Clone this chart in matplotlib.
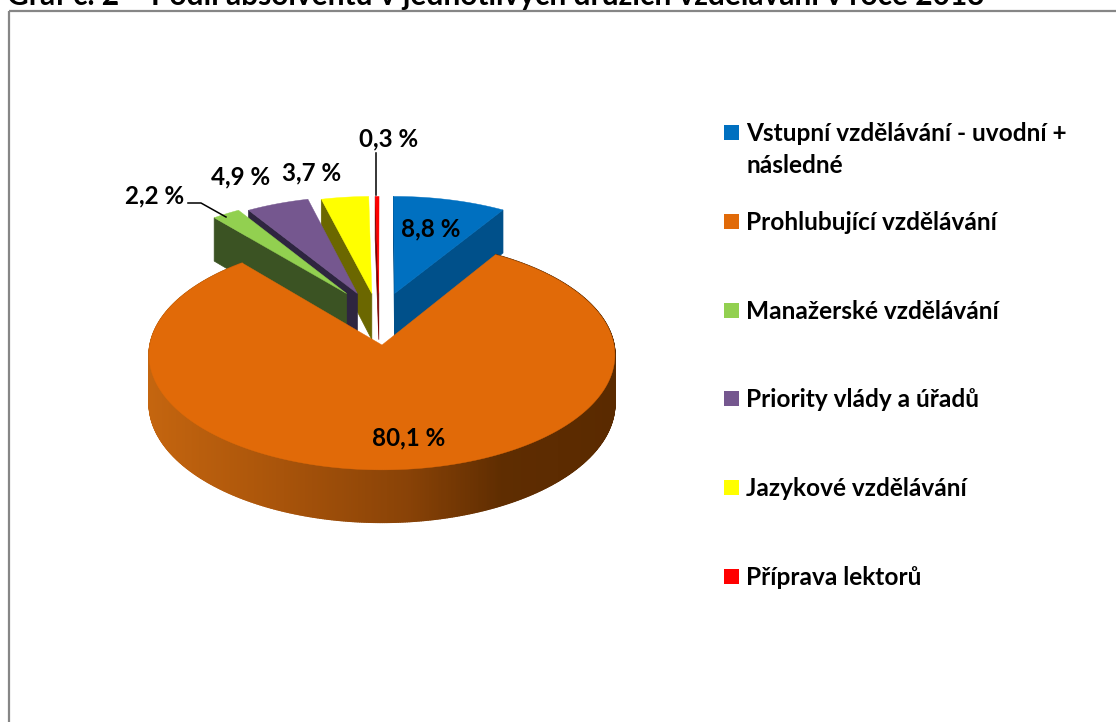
import numpy as np
import matplotlib
matplotlib.use("Agg")
import matplotlib.pyplot as plt
from matplotlib.collections import PolyCollection
from matplotlib.colors import LinearSegmentedColormap
from matplotlib.patches import Rectangle

# ---- data ----
categories = ["Vstupní vzdělávání - uvodní +\nnásledné", "Prohlubující vzdělávání",
              "Manažerské vzdělávání", "Priority vlády a úřadů",
              "Jazykové vzdělávání", "Příprava lektorů"]
values = [8.8, 80.1, 2.2, 4.9, 3.7, 0.3]
value_labels = ["8,8 %", "80,1 %", "2,2 %", "4,9 %", "3,7 %", "0,3 %"]
title = "Graf č. 2 – Podíl absolventů v jednotlivých druzích vzdělávání v roce 2013"

# ---- style ----
top_colors = ["#0070c0", "#e16a08", "#92d050", "#75578f", "#ffff00", "#ff0000"]
side_colors = ["#00508a", "#5c2c00", "#3b5323", "#2e2540", "#6b6700", "#7a0000"]
FONT = "Lato"
W, H = 1116, 722
X0, Y0, A, B, C, DEPTH = 382, 345, 232, 114, 0.087, 48
EXPL_K, EXPL_SHIFT, EXPL_V = 0.25, -0.012, 0.47

plt.rcParams["font.family"] = [FONT, "DejaVu Sans"]
fig = plt.figure(figsize=(W / 100, H / 100), dpi=100)
ax = fig.add_axes([0, 0, 1, 1])
ax.set_xlim(0, W)
ax.set_ylim(H, 0)
ax.axis("off")


def project(u, v, z=0.0):
    w = 1 + C * v
    return X0 + A * u / w, Y0 - B * v / w + DEPTH * z / w


frac = np.array(values) / sum(values) * 2 * np.pi
ends = np.cumsum(frac)
starts = ends - frac


def offset(i):
    if i == 1:
        return 0.0, 0.0
    mid = (starts[i] + ends[i]) / 2
    if mid > np.pi:
        mid -= 2 * np.pi
    return EXPL_K * np.sin(mid) + EXPL_SHIFT, EXPL_V


def wedge_top(i):
    du, dv = offset(i)
    ax_, ay_ = project(du, dv)
    t = np.linspace(starts[i], ends[i], max(4, int(frac[i] * 60)))
    x, y = project(np.sin(t) + du, np.cos(t) + dv)
    return np.r_[ax_, x], np.r_[ay_, y]


def side_face(i, angle):
    du, dv = offset(i)
    u = [du, du + np.sin(angle), du + np.sin(angle), du]
    v = [dv, dv + np.cos(angle), dv + np.cos(angle), dv]
    z = [0, 0, 1, 1]
    return zip(*[project(a, b, c) for a, b, c in zip(u, v, z)])


# detached back slices: each one in front of the one to its right
zo = 2
for i in [5, 4, 3, 2, 0]:
    cut = ends[i] if i == 0 else starts[i]
    fx, fy = side_face(i, cut)
    ax.fill(fx, fy, color=side_colors[i], lw=0.5, zorder=zo)
    if i == 0:
        sx, sy = side_face(i, starts[i])
        ax.fill(sx, sy, color=side_colors[i], lw=0.5, zorder=zo)
    tx, ty = wedge_top(i)
    ax.fill(tx, ty, color=top_colors[i], lw=0.3, zorder=zo + 0.5)
    zo += 1

# orange wall with horizontal light-to-dark shading
wall_cmap = LinearSegmentedColormap.from_list(
    "wall", [(0, "#c4650f"), (0.25, "#ac560b"), (0.55, "#8a4307"),
             (0.76, "#5f2d01"), (1, "#5a2a00")])
t = np.linspace(starts[1], ends[1], 721)
xt, yt = project(np.sin(t), np.cos(t))
xb, yb = project(np.sin(t), np.cos(t), 1.0)
polys = [[(xt[k], yt[k]), (xt[k + 1], yt[k + 1]), (xb[k + 1], yb[k + 1]), (xb[k], yb[k])]
         for k in range(len(t) - 1)]
shade = (xt[:-1] - xt.min()) / (xt.max() - xt.min())
ax.add_collection(PolyCollection(polys, array=shade, cmap=wall_cmap, edgecolors="face",
                                 linewidths=1.0, zorder=20))
tx, ty = wedge_top(1)
ax.fill(tx, ty, color=top_colors[1], lw=0.3, zorder=21)

# chart frame
ax.add_patch(Rectangle((9, 11), W, H, fill=False, ec="#868686", lw=1.6, zorder=1))

# title, clipped by the top edge of the picture
ax.text(7, 5, title, fontsize=21.5, fontweight="bold", ha="left", va="baseline",
        color="black", zorder=30)

# value labels
label_pos = [(431, 236), (409, 445), (155, 203), (241, 184), (312, 180), (389, 146)]
for txt, (lx, ly) in zip(value_labels, label_pos):
    ax.text(lx, ly, txt, fontsize=17.4, fontweight="bold", ha="center", va="baseline", zorder=30)

# leader lines
ax.plot([188, 201, 226], [203, 203, 217], color="black", lw=1.1, zorder=30)
ax.plot([375.7, 375.7], [153, 195], color="black", lw=1.1, zorder=30)

# legend
LINE_PITCH = 32
legend_y = [132.5, 221.5, 310.5, 398.5, 487.5, 576.5]
for lab, col, ly in zip(categories, top_colors, legend_y):
    ax.add_patch(Rectangle((724, ly - 7.5), 15, 15, fc=col, ec="none", zorder=30))
    ax.text(746, ly + 8.5 + LINE_PITCH * lab.count("\n"), lab, fontsize=17.6, fontweight="bold",
            ha="left", va="baseline", linespacing=1.49, zorder=30)

fig.savefig("out.png", dpi=100)
